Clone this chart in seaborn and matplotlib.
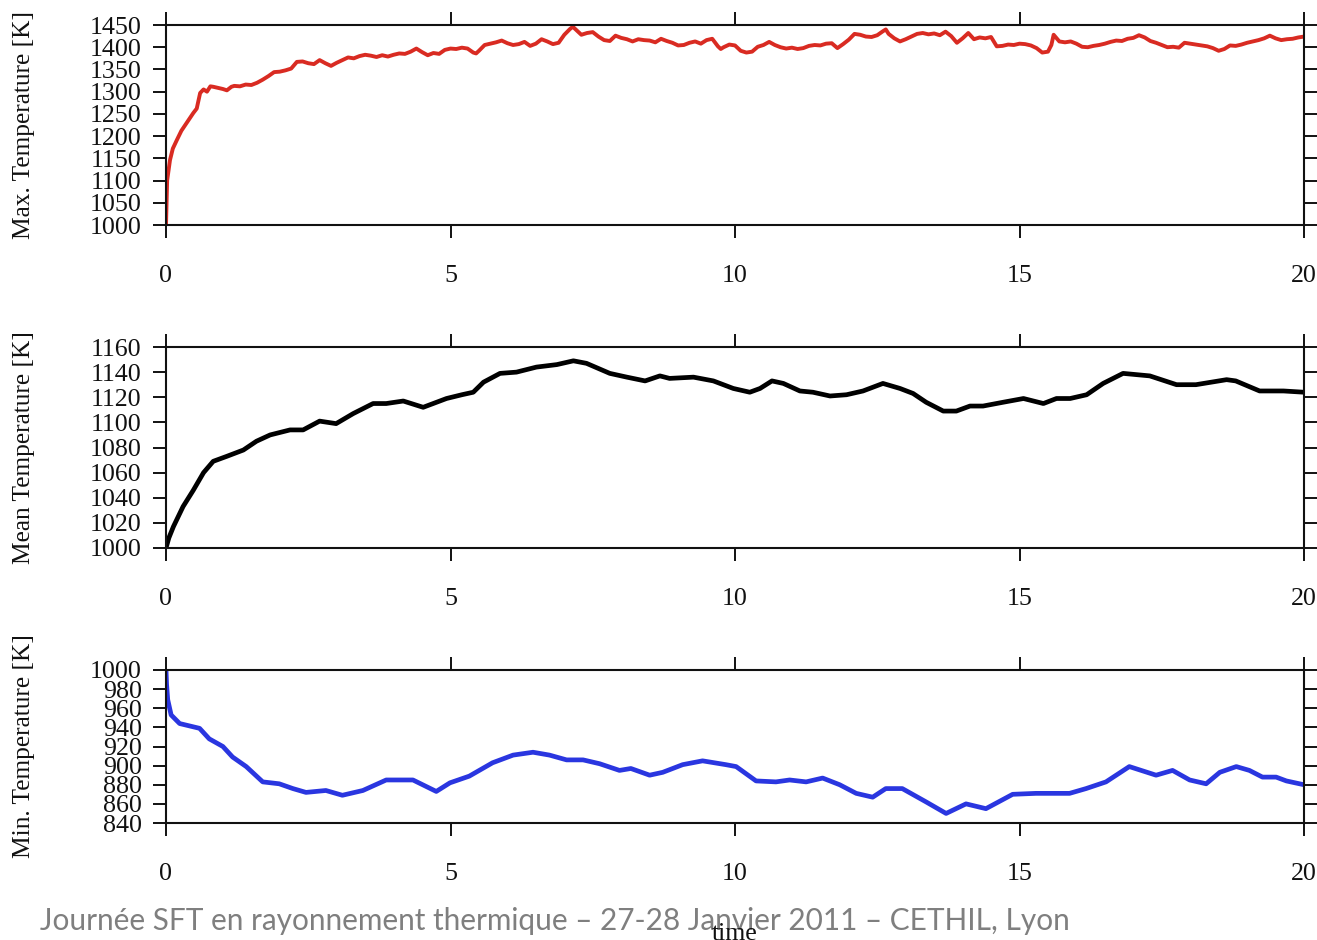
import matplotlib
matplotlib.use("Agg")
import matplotlib.pyplot as plt
import seaborn as sns
import pandas as pd

# ---------------- data ----------------
t_max = [0, 0.02, 0.07, 0.12, 0.19, 0.27, 0.36, 0.42, 0.48, 0.54, 0.6, 0.66, 0.72, 0.78, 0.83,
         0.9, 1.0, 1.07, 1.15, 1.2, 1.3, 1.4, 1.5, 1.6, 1.7, 1.8, 1.9, 2.0, 2.1, 2.2, 2.3, 2.4,
         2.5, 2.6, 2.7, 2.8, 2.9, 3.0, 3.1, 3.2, 3.3, 3.4, 3.5, 3.6, 3.7, 3.8, 3.9, 4.0, 4.1,
         4.2, 4.3, 4.4, 4.5, 4.6, 4.7, 4.8, 4.9, 5.0, 5.1, 5.2, 5.3, 5.4, 5.45, 5.5, 5.6, 5.7,
         5.8, 5.9, 6.0, 6.1, 6.2, 6.3, 6.4, 6.5, 6.6, 6.7, 6.8, 6.9, 7.0, 7.1, 7.15, 7.2, 7.3,
         7.4, 7.5, 7.6, 7.7, 7.8, 7.9, 8.0, 8.1, 8.2, 8.3, 8.4, 8.5, 8.6, 8.7, 8.8, 8.9, 9.0,
         9.1, 9.2, 9.3, 9.4, 9.5, 9.6, 9.7, 9.75, 9.8, 9.9, 10.0, 10.1, 10.2, 10.3, 10.4, 10.5,
         10.6, 10.7, 10.8, 10.9, 11.0, 11.1, 11.2, 11.3, 11.4, 11.5, 11.6, 11.7, 11.8, 11.9,
         12.0, 12.1, 12.2, 12.3, 12.4, 12.5, 12.6, 12.65, 12.7, 12.8, 12.9, 13.0, 13.1, 13.2,
         13.3, 13.4, 13.5, 13.6, 13.7, 13.8, 13.9, 14.0, 14.1, 14.2, 14.3, 14.4, 14.5, 14.6,
         14.7, 14.8, 14.9, 15.0, 15.1, 15.2, 15.3, 15.4, 15.5, 15.56, 15.6, 15.7, 15.8, 15.9,
         16.0, 16.1, 16.2, 16.3, 16.4, 16.5, 16.6, 16.7, 16.8, 16.9, 17.0, 17.1, 17.2, 17.3,
         17.4, 17.5, 17.6, 17.7, 17.8, 17.9, 18.0, 18.1, 18.2, 18.3, 18.4, 18.5, 18.6, 18.7,
         18.8, 18.9, 19.0, 19.1, 19.2, 19.3, 19.4, 19.5, 19.6, 19.7, 19.8, 19.9, 20.0]
T_max = [1000, 1100, 1146, 1172, 1191, 1212, 1229, 1240, 1252, 1262, 1297, 1305, 1300, 1312, 1311,
         1309, 1306, 1303, 1311, 1313, 1312, 1316, 1315, 1320, 1327, 1335, 1344, 1345, 1348, 1352,
         1367, 1368, 1364, 1362, 1371, 1364, 1358, 1365, 1371, 1377, 1375, 1380, 1383, 1381, 1378,
         1382, 1379, 1383, 1386, 1385, 1390, 1397, 1389, 1382, 1387, 1385, 1394, 1397, 1396, 1399,
         1397, 1388, 1386, 1392, 1405, 1408, 1411, 1415, 1409, 1405, 1407, 1412, 1403, 1408, 1418,
         1413, 1407, 1410, 1428, 1441, 1446, 1440, 1428, 1432, 1434, 1424, 1416, 1414, 1426, 1421,
         1418, 1413, 1418, 1416, 1415, 1411, 1419, 1414, 1410, 1404, 1405, 1410, 1413, 1408, 1416,
         1419, 1402, 1396, 1400, 1406, 1404, 1392, 1388, 1390, 1401, 1405, 1412, 1405, 1400, 1397,
         1399, 1396, 1398, 1403, 1405, 1404, 1408, 1409, 1398, 1407, 1417, 1430, 1428, 1424, 1423,
         1427, 1436, 1440, 1430, 1420, 1413, 1418, 1424, 1430, 1432, 1429, 1431, 1427, 1435, 1425,
         1410, 1420, 1432, 1418, 1422, 1420, 1423, 1402, 1403, 1406, 1405, 1408, 1407, 1404, 1398,
         1388, 1390, 1405, 1428, 1413, 1411, 1413, 1408, 1401, 1400, 1403, 1405, 1408, 1412, 1415,
         1414, 1419, 1421, 1427, 1422, 1414, 1410, 1405, 1400, 1401, 1399, 1410, 1408, 1406, 1404,
         1402, 1398, 1392, 1396, 1404, 1403, 1406, 1410, 1413, 1416, 1420, 1426, 1420, 1416, 1418,
         1419, 1422, 1424]

t_mean = [0, 0.05, 0.13, 0.3, 0.48, 0.66, 0.83, 1.07, 1.36, 1.59, 1.83, 2.18, 2.41, 2.7, 2.99,
          3.29, 3.64, 3.87, 4.17, 4.52, 4.93, 5.2, 5.4, 5.58, 5.87, 6.16, 6.51, 6.87, 7.16, 7.39,
          7.8, 8.1, 8.42, 8.68, 8.85, 9.27, 9.62, 9.97, 10.26, 10.44, 10.65, 10.85, 11.14, 11.37,
          11.67, 11.96, 12.25, 12.6, 12.9, 13.13, 13.36, 13.66, 13.89, 14.13, 14.36, 14.71, 15.07,
          15.42, 15.65, 15.89, 16.18, 16.47, 16.82, 17.29, 17.76, 18.1, 18.64, 18.8, 19.22, 19.64, 20.0]
T_mean = [1000, 1008, 1017, 1033, 1046, 1060, 1069, 1073, 1078, 1085, 1090, 1094, 1094, 1101, 1099,
          1107, 1115, 1115, 1117, 1112, 1119, 1122, 1124, 1132, 1139, 1140, 1144, 1146, 1149, 1147,
          1139, 1136, 1133, 1137, 1135, 1136, 1133, 1127, 1124, 1127, 1133, 1131, 1125, 1124,
          1121, 1122, 1125, 1131, 1127, 1123, 1116, 1109, 1109, 1113, 1113, 1116, 1119,
          1115, 1119, 1119, 1122, 1131, 1139, 1137, 1130, 1130, 1134, 1133, 1125, 1125, 1124]

t_min = [0, 0.01, 0.03, 0.09, 0.24, 0.59, 0.76, 1.0, 1.17, 1.41, 1.7, 1.99, 2.23, 2.46, 2.81, 3.1,
         3.46, 3.87, 4.34, 4.75, 4.99, 5.33, 5.74, 6.1, 6.45, 6.74, 7.04, 7.33, 7.62, 7.97, 8.17,
         8.5, 8.73, 9.08, 9.43, 9.84, 10.02, 10.37, 10.72, 10.96, 11.25, 11.54, 11.84, 12.13, 12.42,
         12.65, 12.94, 13.36, 13.71, 14.06, 14.41, 14.88, 15.29, 15.88, 16.17, 16.52, 16.93, 17.4,
         17.69, 17.99, 18.28, 18.52, 18.81, 19.04, 19.27, 19.51, 19.69, 20.0]
T_min = [1000, 985, 969, 953, 944, 939, 928, 920, 909, 899, 883, 881, 876, 872, 874, 869,
         874, 885, 885, 873, 882, 889, 903, 911, 914, 911, 906, 906, 902, 895, 897,
         890, 893, 901, 905, 901, 899, 884, 883, 885, 883, 887, 880, 871, 867,
         876, 876, 862, 850, 860, 855, 870, 871, 871, 876, 883, 899, 890,
         895, 885, 881, 893, 899, 895, 888, 888, 884, 880]

x_ticks = [0, 5, 10, 15, 20]
max_ticks = list(range(1000, 1451, 50))
mean_ticks = list(range(1000, 1161, 20))
min_ticks = list(range(840, 1001, 20))

ylabels = ["Max. Temperature [K]", "Mean Temperature [K]", "Min. Temperature [K]"]
footer = "Journée SFT en rayonnement thermique – 27-28 Janvier 2011 – CETHIL, Lyon"
xlabel = "time"

# ---------------- style ----------------
sns.set_style("ticks")
plt.rcParams["font.family"] = ["Liberation Serif", "DejaVu Serif"]

W, H = 1317, 940
fig = plt.figure(figsize=(W / 100, H / 100), dpi=100)

def px_axes(left, top, right, bottom):
    return fig.add_axes([left / W, 1 - bottom / H, (right - left) / W, (bottom - top) / H])

panels = [
    (px_axes(166, 25, 1304, 225), t_max, T_max, "#d92b22", 2.8, max_ticks),
    (px_axes(166, 347, 1304, 548), t_mean, T_mean, "#000000", 3.4, mean_ticks),
    (px_axes(166, 670, 1304, 823), t_min, T_min, "#2a36e0", 3.4, min_ticks),
]

for (ax, xs, ys, col, lw, yt), lab in zip(panels, ylabels):
    df = pd.DataFrame({"t": xs, "T": ys})
    sns.lineplot(data=df, x="t", y="T", ax=ax, color=col, linewidth=lw, sort=False,
                 estimator=None, legend=False)
    for ln in ax.lines:
        ln.set_solid_joinstyle("round")
        ln.set_solid_capstyle("round")
    ax.set_xlim(0, 20)
    ax.set_ylim(yt[0], yt[-1])
    ax.set_xticks(x_ticks)
    ax.set_xticklabels([str(v) for v in x_ticks])
    ax.set_yticks(yt)
    ax.set_yticklabels([str(v) for v in yt])
    for s in ax.spines.values():
        s.set_visible(True)
        s.set_linewidth(1.5)
        s.set_color("#111111")
    ax.tick_params(axis="both", which="major", direction="out", length=9.5, width=1.4,
                   color="#111111", labelsize=18.7, labelcolor="#111111")
    ax.tick_params(axis="x", top=True, bottom=True, pad=19)
    ax.tick_params(axis="y", left=True, right=True, pad=8)
    ax.set_xlabel("")
    ax.set_ylabel(lab, fontsize=18.3, color="#111111")
    ax.yaxis.set_label_coords(-0.1151, 0.5)
    ax.set_facecolor("white")

ft = fig.text(40 / W, 1 - 930 / H, footer, ha="left", va="baseline", fontsize=24,
              color="#7f7f7f", family=["Lato", "DejaVu Sans"], zorder=10)
fig.canvas.draw()
w = ft.get_window_extent(renderer=fig.canvas.get_renderer()).width
ft.set_fontsize(24 * 1028 / w)

fig.text(735 / W, 1 - 940 / H, xlabel, ha="center", va="baseline", fontsize=18.5,
         color="#111111", zorder=11)

fig.savefig("out.png", dpi=100)
